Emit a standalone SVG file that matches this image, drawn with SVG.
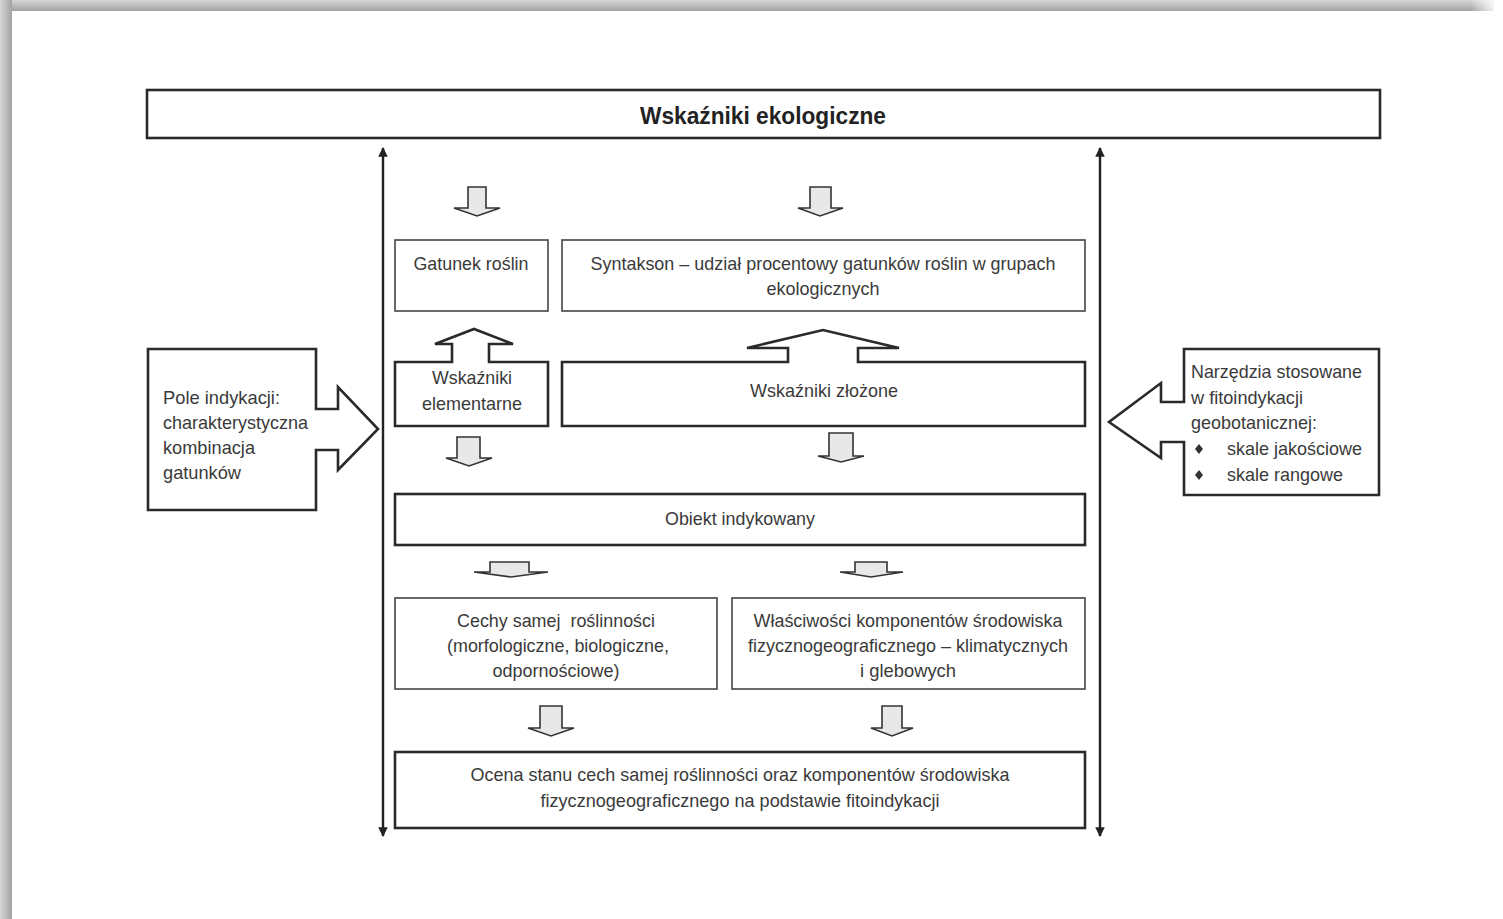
<svg xmlns="http://www.w3.org/2000/svg" width="1503" height="919" viewBox="0 0 1503 919">
<defs>
<linearGradient id="gTop" x1="0" y1="0" x2="0" y2="1"><stop offset="0" stop-color="#d6d6d6"/><stop offset="1" stop-color="#a2a2a2"/></linearGradient>
<linearGradient id="gLeft" x1="0" y1="0" x2="1" y2="0"><stop offset="0" stop-color="#d6d6d6"/><stop offset="1" stop-color="#a2a2a2"/></linearGradient>
<linearGradient id="gFade" x1="0" y1="0" x2="1" y2="0"><stop offset="0" stop-color="#fff" stop-opacity="0"/><stop offset="1" stop-color="#fff" stop-opacity="1"/></linearGradient>
<marker id="ah" viewBox="0 0 10 10" refX="9" refY="5" markerWidth="4.4" markerHeight="4" orient="auto-start-reverse"><path d="M0,0 L10,5 L0,10 Z" fill="#222"/></marker>
<style>
.box{fill:#fff;stroke:#2a2a2a;stroke-width:2.6}
.thin{fill:#fff;stroke:#444;stroke-width:1.6}
.blk{fill:#e8e8e8;stroke:#333;stroke-width:1.6;stroke-linejoin:miter}
.t{font-family:"Liberation Sans",Arial,sans-serif;font-size:19px;fill:#3a3a3a}
.c{text-anchor:middle}
.ttl{font-family:"Liberation Sans",Arial,sans-serif;font-size:23px;font-weight:bold;fill:#222;text-anchor:middle}
.ax{stroke:#222;stroke-width:2.4;fill:none}
</style>
</defs>
<rect width="1503" height="919" fill="#fff"/>
<g id="page-shadow">
<rect x="0" y="0" width="1494" height="11" fill="url(#gTop)"/>
<rect x="0" y="0" width="12" height="919" fill="url(#gLeft)"/>
<rect x="1470" y="0" width="28" height="11" fill="url(#gFade)"/>
</g>

<g id="title">
<rect class="box" x="147" y="90" width="1233" height="48" stroke-width="3"/>
<text class="ttl" x="763" y="124" textLength="246" lengthAdjust="spacingAndGlyphs">Wskaźniki ekologiczne</text>
</g>

<g id="connectors">
<line class="ax" x1="383" y1="836" x2="383" y2="148" marker-end="url(#ah)" marker-start="url(#ah)"/>
<line class="ax" x1="1100" y1="836" x2="1100" y2="148" marker-end="url(#ah)" marker-start="url(#ah)"/>
<path class="blk" d="M468,187 H486 V208 H500 L477,216 L454,208 H468 Z"/>
<path class="blk" d="M810,187 H831 V208 H843 L820,216 L798,208 H810 Z"/>
<path class="blk" d="M457,437 H480 V458 H492 L469,466 L446,458 H457 Z"/>
<path class="blk" d="M829,433 H853 V456 H864 L841,462 L818,456 H829 Z"/>
<path class="blk" d="M490,562 H529 V572 H548 L511,577 L474,572 H490 Z"/>
<path class="blk" d="M855,562 H887 V572 H903 L871,577 L840,572 H855 Z"/>
<path class="blk" d="M540,706 H562 V728 H574 L551,736 L528,728 H540 Z"/>
<path class="blk" d="M882,706 H902 V728 H913 L892,736 L871,728 H882 Z"/>
</g>

<g id="gatunek">
<rect class="thin" x="395" y="240" width="153" height="71"/>
<text class="t c" x="471" y="270" textLength="115" lengthAdjust="spacingAndGlyphs">Gatunek roślin</text>
</g>

<g id="syntakson">
<rect class="thin" x="562" y="240" width="523" height="71"/>
<text class="t c" x="823" y="270" textLength="465" lengthAdjust="spacingAndGlyphs">Syntakson – udział procentowy gatunków roślin w grupach</text>
<text class="t c" x="823" y="295" textLength="113" lengthAdjust="spacingAndGlyphs">ekologicznych</text>
</g>

<g id="elementarne">
<path class="box" d="M395,362 H452 V344 H435 L474,329 L513,344 H489 V362 H548 V426 H395 Z"/>
<text class="t c" x="472" y="384" textLength="80" lengthAdjust="spacingAndGlyphs">Wskaźniki</text>
<text class="t c" x="472" y="410" textLength="100" lengthAdjust="spacingAndGlyphs">elementarne</text>
</g>

<g id="zlozone">
<path class="box" d="M562,362 H788 V348 H747 L823,330 L899,348 H858 V362 H1085 V426 H562 Z"/>
<text class="t c" x="824" y="397" textLength="148" lengthAdjust="spacingAndGlyphs">Wskaźniki złożone</text>
</g>

<g id="pole">
<path class="box" d="M148,349 H316 V409 H338 V387 L378,429 L338,470 V450 H316 V510 H148 Z"/>
<text class="t" x="163" y="404" textLength="117" lengthAdjust="spacingAndGlyphs">Pole indykacji:</text>
<text class="t" x="163" y="429" textLength="145" lengthAdjust="spacingAndGlyphs">charakterystyczna</text>
<text class="t" x="163" y="454" textLength="92" lengthAdjust="spacingAndGlyphs">kombinacja</text>
<text class="t" x="163" y="479" textLength="78" lengthAdjust="spacingAndGlyphs">gatunków</text>
</g>

<g id="narzedzia">
<path class="box" d="M1184,349 H1379 V495 H1184 V442 H1161 V458 L1109,422 L1161,383 V402 H1184 Z"/>
<text class="t" x="1191" y="378" textLength="171" lengthAdjust="spacingAndGlyphs">Narzędzia stosowane</text>
<text class="t" x="1191" y="404" textLength="112" lengthAdjust="spacingAndGlyphs">w fitoindykacji</text>
<text class="t" x="1191" y="429" textLength="126" lengthAdjust="spacingAndGlyphs">geobotanicznej:</text>
<path d="M1199,444 L1203,449 L1199,454 L1195,449 Z M1199,470 L1203,475 L1199,480 L1195,475 Z" fill="#333"/>
<text class="t" x="1227" y="455" textLength="135" lengthAdjust="spacingAndGlyphs">skale jakościowe</text>
<text class="t" x="1227" y="481" textLength="116" lengthAdjust="spacingAndGlyphs">skale rangowe</text>
</g>

<g id="obiekt">
<rect class="box" x="395" y="494" width="690" height="51"/>
<text class="t c" x="740" y="525" textLength="150" lengthAdjust="spacingAndGlyphs">Obiekt indykowany</text>
</g>

<g id="cechy">
<rect class="thin" x="395" y="598" width="322" height="91"/>
<text class="t c" x="556" y="627" textLength="198" lengthAdjust="spacingAndGlyphs" xml:space="preserve">Cechy samej  roślinności</text>
<text class="t c" x="558" y="652" textLength="222" lengthAdjust="spacingAndGlyphs">(morfologiczne, biologiczne,</text>
<text class="t c" x="556" y="677" textLength="127" lengthAdjust="spacingAndGlyphs">odpornościowe)</text>
</g>

<g id="wlasciwosci">
<rect class="thin" x="732" y="598" width="353" height="91"/>
<text class="t c" x="908" y="627" textLength="309" lengthAdjust="spacingAndGlyphs">Właściwości komponentów środowiska</text>
<text class="t c" x="908" y="652" textLength="320" lengthAdjust="spacingAndGlyphs">fizycznogeograficznego – klimatycznych</text>
<text class="t c" x="908" y="677" textLength="96" lengthAdjust="spacingAndGlyphs">i glebowych</text>
</g>

<g id="ocena">
<rect class="box" x="395" y="752" width="690" height="76"/>
<text class="t c" x="740" y="781" textLength="539" lengthAdjust="spacingAndGlyphs">Ocena stanu cech samej roślinności oraz komponentów środowiska</text>
<text class="t c" x="740" y="807" textLength="399" lengthAdjust="spacingAndGlyphs">fizycznogeograficznego na podstawie fitoindykacji</text>
</g>
</svg>
